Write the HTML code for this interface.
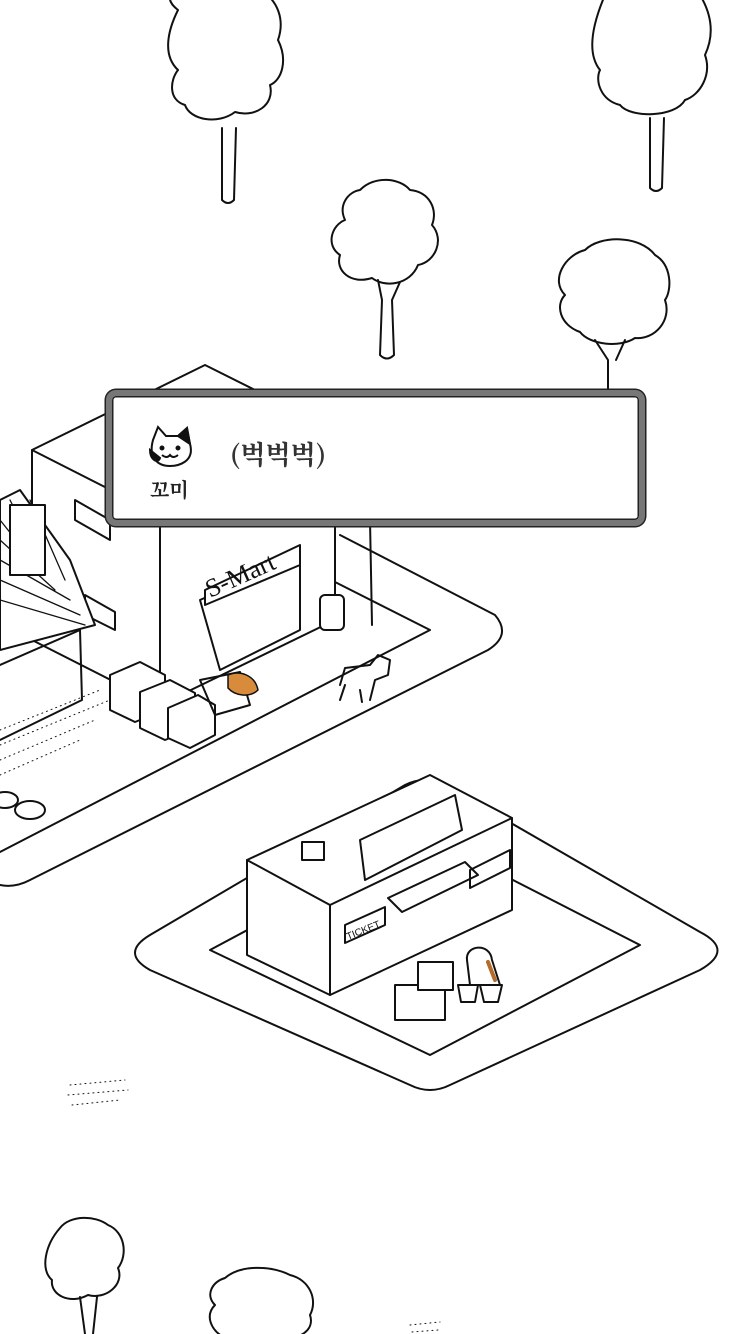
<!DOCTYPE html>
<html><head><meta charset="utf-8"><style>
html,body{margin:0;padding:0;background:#fff;}
body{width:750px;height:1334px;overflow:hidden;position:relative;font-family:"Liberation Sans","Noto Sans CJK KR",sans-serif;}
svg{position:absolute;left:0;top:0;}
.dlg{position:absolute;left:106px;top:390px;width:527px;height:124px;border:6px solid #777;border-radius:10px;box-shadow:0 0 0 1.5px #222, inset 0 0 0 1.5px #222;background:#fff;}
.name{position:absolute;left:150px;top:474px;font-size:20px;font-weight:bold;color:#222;font-family:"Noto Serif CJK SC","Noto Sans CJK KR",serif;}
.txt{position:absolute;left:230px;top:435px;font-size:26px;font-weight:bold;color:#333;font-family:"Noto Serif CJK SC","Noto Sans CJK KR",serif;}
</style></head><body>
<svg width="750" height="1334" viewBox="0 0 750 1334" fill="none" stroke="#111" stroke-width="2" stroke-linejoin="round" stroke-linecap="round">
<g>
<path d="M178 10 C165 0 168 -10 185 -10 L260 -10 C278 0 285 20 278 40 C288 60 282 80 270 85 C275 105 255 118 235 112 C218 125 190 120 185 105 C168 100 170 80 178 70 C162 55 168 30 178 10Z"/>
<path d="M222 128 L222 200 Q228 206 234 200 L236 128"/>
<path d="M605 -5 L700 -5 C715 20 712 40 705 55 C712 75 700 95 685 100 C675 118 630 118 620 105 C600 100 595 80 600 70 C588 55 590 30 605 -5Z"/>
<path d="M650 118 L650 188 Q656 194 662 188 L664 118"/>
<path d="M360 190 C375 175 400 178 410 190 C430 192 438 210 432 225 C445 240 435 262 418 265 C410 285 385 288 372 278 C350 285 335 270 340 255 C325 245 332 225 345 220 C338 205 348 192 360 190Z"/>
<path d="M378 280 L382 300 L380 355 Q387 362 394 355 L392 300 L400 282"/>
<path d="M585 250 C600 235 640 235 655 255 C672 265 672 290 665 300 C672 320 655 340 635 338 C620 348 590 345 580 332 C560 325 555 305 565 295 C550 280 565 255 585 250Z"/>
<path d="M595 340 L608 360 L608 390 M625 340 L616 360"/>
<path d="M60 1228 C70 1215 95 1215 108 1225 C125 1232 128 1255 118 1268 C125 1285 105 1300 88 1295 C70 1305 50 1295 52 1280 C40 1270 45 1245 60 1228Z"/>
<path d="M80 1297 L85 1334 M97 1297 L93 1334"/>
<path d="M225 1278 C240 1265 270 1265 290 1275 C310 1280 318 1300 310 1315 C315 1330 300 1340 280 1338 L225 1338 C210 1330 205 1315 215 1305 C205 1295 212 1282 225 1278Z"/>
</g>
<path d="M0 885 Q15 888 30 880 L488 650 Q512 635 495 615 L340 535"/>
<path d="M0 852 L430 630 L335 582"/>
<g stroke-width="1" stroke-dasharray="1 4">
<path d="M0 730 L100 690 M0 745 L110 700 M0 760 L95 720 M0 775 L80 740"/>
<path d="M70 1085 L125 1080 M68 1095 L128 1090 M72 1105 L120 1100"/>
<path d="M410 1325 L440 1322 M412 1332 L438 1330"/>
</g>
<ellipse cx="5" cy="800" rx="13" ry="8"/>
<ellipse cx="30" cy="810" rx="15" ry="9"/>
<path d="M32 450 L205 365 L335 430 L335 620 L160 705 L32 640 Z" fill="#fff"/>
<path d="M32 450 L160 515 L335 430 M160 515 L160 705"/>
<path d="M200 600 L300 555 L300 630 L220 670 Z"/>
<path d="M205 590 L300 545 L300 565 L205 605 Z" fill="#fff"/>
<text x="210" y="598" font-family="Liberation Serif" font-size="26" fill="#111" stroke="none" transform="rotate(-24 210 598)">S-Mart</text>
<path d="M370 520 L372 625"/>
<rect x="320" y="595" width="24" height="35" rx="5" fill="#fff"/>
<path d="M75 500 L110 520 L110 540 L75 520 Z M85 595 L115 612 L115 630 L85 615Z"/>
<path d="M0 500 L20 490 L70 560 L95 625 L0 650 Z" fill="#fff"/>
<g stroke-width="1.3"><path d="M0 520 L40 570 M0 540 L55 590 M0 560 L70 600 M0 580 L80 615 M0 600 L85 625 M10 500 L40 560 M30 500 L65 580"/></g>
<rect x="10" y="505" width="35" height="70" fill="#fff"/>
<path d="M0 665 L80 630 L82 700 L0 740"/>
<g fill="#fff" stroke-width="2">
<path d="M110 675 L140 662 L165 675 L165 710 L135 722 L110 710Z"/>
<path d="M140 692 L170 680 L195 693 L195 728 L165 740 L140 728Z"/>
<path d="M168 708 L198 695 L215 705 L215 735 L190 748 L168 738Z"/>
</g>
<path d="M200 680 L240 672 L250 705 L215 715 Z"/>
<path d="M228 675 C240 670 255 675 258 690 C250 698 235 696 228 688Z" fill="#d98b3c" stroke-width="1.5"/>
<path d="M340 685 L345 668 L370 665 L378 655 L390 660 L388 675 L375 680 L370 700 M345 685 L340 700 M360 690 L362 702"/>
<path d="M150 935 L405 785 Q425 775 445 785 L700 932 Q735 950 700 970 L450 1085 Q430 1095 410 1085 L150 970 Q120 953 150 935Z"/>
<path d="M210 950 L425 835 L640 945 L430 1055 Z"/>
<path d="M247 860 L430 775 L512 818 L512 910 L330 995 L247 955 Z" fill="#fff"/>
<path d="M247 860 L330 905 L512 818 M330 905 L330 995"/>
<path d="M360 840 L455 795 L462 830 L365 880 Z" fill="#fff"/>
<path d="M388 898 L465 862 L478 875 L402 912 Z" fill="#fff"/>
<rect x="302" y="842" width="22" height="18" fill="#fff"/>
<path d="M345 925 L385 907 L385 925 L345 943Z M470 870 L510 850 L510 868 L470 888Z"/>
<text x="348" y="940" font-size="10" fill="#111" stroke="none" transform="rotate(-22 348 940)">TICKET</text>
<rect x="395" y="985" width="50" height="35" fill="#fff"/>
<rect x="418" y="962" width="35" height="28" fill="#fff"/>
<path d="M458 985 L478 985 L475 1002 L461 1002Z M480 985 L502 985 L498 1002 L484 1002Z"/>
<path d="M467 960 C465 945 490 942 492 960 L500 985 L470 985 Z" fill="#fff"/>
<path d="M488 962 L495 980" stroke="#b56b2a" stroke-width="4"/>
</svg>
<div class="dlg"></div>
<svg width="750" height="1334" fill="none" stroke="#111" stroke-width="2">
<path d="M153 440 L158 427 L166 436 L178 436 L187 428 L190 444 C195 462 178 466 170 466 C158 466 148 458 153 440Z" fill="#fff"/>
<path d="M178 436 L187 428 L190 444 Z M150 450 C150 460 158 464 160 458 Z" fill="#111"/>
<path d="M162 455 Q167 459 170 455 Q173 459 178 455"/>
<circle cx="162" cy="448" r="1.5" fill="#111"/><circle cx="178" cy="448" r="1.5" fill="#111"/>
</svg>
<div class="name">꼬미</div>
<div class="txt">(벅벅벅)</div>
</body></html>
